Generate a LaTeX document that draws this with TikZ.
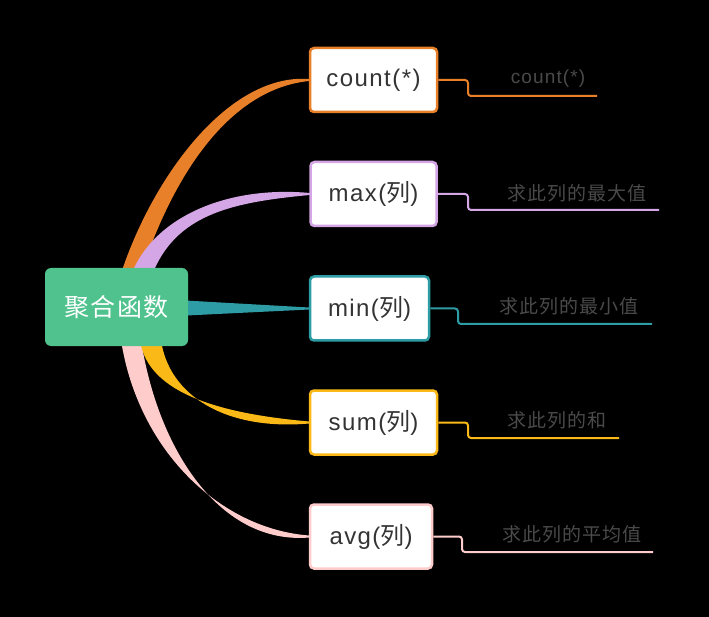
\documentclass[tikz,border=0pt]{standalone}
\usepackage{fontspec}
\setmainfont{Liberation Sans}
\newfontfamily\cjk{Noto Sans CJK SC}
\newfontfamily\cjklbl[LetterSpace=5]{Noto Sans CJK SC}
\newfontfamily\cjkroot[LetterSpace=5]{Noto Sans CJK SC}
\newfontfamily\latinsp[LetterSpace=6]{Liberation Sans}
\usetikzlibrary{calc,backgrounds}
\definecolor{cOrange}{HTML}{E8802A}
\definecolor{cLilac}{HTML}{D5A6E6}
\definecolor{cTeal}{HTML}{2E9CA4}
\definecolor{cYellow}{HTML}{FBB917}
\definecolor{cPink}{HTML}{FFCCCC}
\definecolor{cGreen}{HTML}{50C28D}
\definecolor{boxtext}{HTML}{333333}
\definecolor{labeltext}{HTML}{4A4A4A}
\newcommand\mmband[9]{\fill[#1] ($(root.center)+(#2-#9,#3)$) .. controls (#4-#9,#5) and (#6,#7-#9*0.8) .. ($(#8.west)+(0.5,-1)$) -- ($(#8.west)+(0.5,1)$) .. controls (#6,#7+#9*0.8) and (#4+#9,#5) .. ($(root.center)+(#2+#9,#3)$) -- cycle;}
\tikzset{
  childbox/.style={draw=#1, line width=2.5pt, fill=white, rounded corners=4pt, text=boxtext,
    font=\latinsp\fontsize{24}{28}\selectfont, minimum height=64pt, inner sep=0pt},
  rootbox/.style={fill=cGreen, rounded corners=6pt, text=white, minimum width=143pt,
    minimum height=78pt, inner sep=0pt, font=\cjkroot\fontsize{25}{30}\selectfont},
  lbl/.style={text=labeltext, font=\latinsp\fontsize{19}{23}\selectfont, inner sep=0pt},
  detail/.style={draw=#1, line width=2pt, rounded corners=3pt}
}
\begin{document}
\begin{tikzpicture}[x=1pt,y=-1pt]
\useasboundingbox (0,0) rectangle (709,617);
% nodes
\node[rootbox] (root) at (116.5,307) {聚合函数};
\node[childbox=cOrange, minimum width=127pt] (c1) at (373.5,80) {count(*)};
\node[childbox=cLilac, minimum width=126pt] (c2) at (373.5,194) {max({\cjk 列})};
\node[childbox=cTeal, minimum width=119pt] (c3) at (369.5,308.5) {min({\cjk 列})};
\node[childbox=cYellow, minimum width=127pt] (c4) at (373.5,422.5) {sum({\cjk 列})};
\node[childbox=cPink, minimum width=122pt] (c5) at (371,536.5) {avg({\cjk 列})};
% labels
\node[lbl] (l1) at (548,79) {count(*)};
\node[lbl] (l2) at (577,193) {\cjklbl 求此列的最大值};
\node[lbl] (l3) at (569,306) {\cjklbl 求此列的最小值};
\node[lbl] (l4) at (557,420) {\cjklbl 求此列的和};
\node[lbl] (l5) at (572,534) {\cjklbl 求此列的平均值};
% free ends of detail lines
\coordinate (e1) at (597,96);
\coordinate (e2) at (659,210);
\coordinate (e3) at (652,324);
\coordinate (e4) at (619,438);
\coordinate (e5) at (653,552);
% detail lines
\draw[detail=cOrange] (c1.east) -- (468,80) -- (468,96) -- (e1);
\draw[detail=cLilac] (c2.east) -- (468,194) -- (468,210) -- (e2);
\draw[detail=cTeal] (c3.east) -- (458,308.5) -- (458,324) -- (e3);
\draw[detail=cYellow] (c4.east) -- (468,422.5) -- (468,438) -- (e4);
\draw[detail=cPink] (c5.east) -- (462,536.5) -- (462,552) -- (e5);
% bands
\begin{scope}[on background layer]
\fill[black] (0,0) rectangle (709,617);
\mmband{cOrange}{14}{-32}{162}{178}{228}{81}{c1}{10}
\mmband{cLilac}{25}{-32}{165}{215}{230}{194}{c2}{10.5}
\fill[cTeal] ($(root.center)+(60,-7)$) -- ($(c3.west)+(0.5,-1)$) -- ($(c3.west)+(0.5,1)$) -- ($(root.center)+(60,9)$) -- cycle;
\mmband{cPink}{14.5}{33}{148}{450}{220}{537}{c5}{10}
\mmband{cYellow}{34}{33}{158}{395}{225}{422.5}{c4}{10.5}
\end{scope}
\end{tikzpicture}
\end{document}
